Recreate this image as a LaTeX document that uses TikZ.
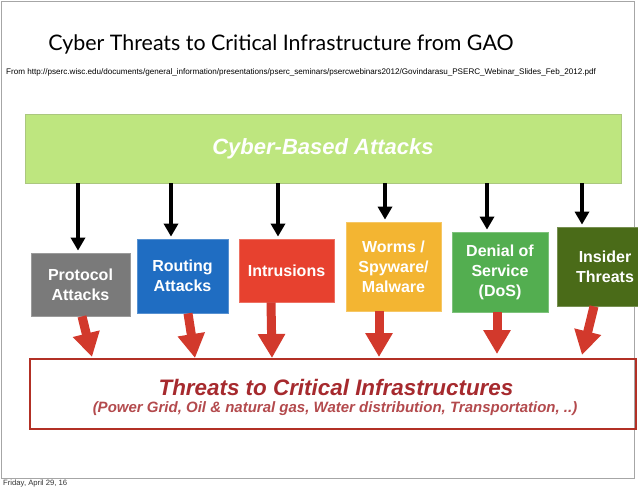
\documentclass[tikz,border=0pt]{standalone}
\usepackage{fontspec}
\setmainfont{Liberation Sans}
\newfontfamily\titlefont{Lato}
\usetikzlibrary{arrows.meta}

\definecolor{cybergreen}{HTML}{BEE67F}
\definecolor{protogray}{HTML}{7A7A7A}
\definecolor{routeblue}{HTML}{1F6DC2}
\definecolor{intrured}{HTML}{E7412F}
\definecolor{wormyellow}{HTML}{F3B532}
\definecolor{dosgreen}{HTML}{53AE50}
\definecolor{insidergreen}{HTML}{4A6B18}
\definecolor{arrowred}{HTML}{D2392C}
\definecolor{threatred}{HTML}{A62A2E}

\tikzset{
  attack/.style={fill=#1, draw=#1!75!white, line width=0.8pt, text=white,
    font=\bfseries\fontsize{16}{20}\selectfont, align=center, inner sep=0pt},
  feed/.style={line width=4pt, -{Triangle[width=14pt,length=13pt]}, shorten >=2pt},
  hit/.style={draw=arrowred, line width=9pt, -{Triangle[width=26pt,length=24pt]}}
}

\begin{document}
\begin{tikzpicture}[x=1pt,y=-1pt]
  \useasboundingbox (0,0) rectangle (638,491);
  \draw[gray!70, line width=1pt] (1,1) rectangle (634,478);

  % header
  \node (title) at (281,44) {\titlefont\fontsize{21.4}{26}\selectfont Cyber Threats to Critical Infrastructure from GAO};
  \node[anchor=west, inner sep=0pt] (src) at (6,72) {\fontsize{8.1}{9}\selectfont From http://pserc.wisc.edu/documents/general\_information/presentations/pserc\_seminars/psercwebinars2012/Govindarasu\_PSERC\_Webinar\_Slides\_Feb\_2012.pdf};
  \node[anchor=west, inner sep=0pt, text=black!80] (date) at (3,484) {\fontsize{7.7}{9}\selectfont Friday, April 29, 16};

  % top box
  \node[fill=cybergreen, draw=cybergreen!70!gray, line width=0.8pt, minimum width=596pt, minimum height=69pt,
    text=white, font=\bfseries\itshape\fontsize{22}{26}\selectfont] (cyber) at (323,148.5) {Cyber-Based Attacks};

  % attack types
  \node[attack=protogray, minimum width=99pt, minimum height=63pt] (proto) at (80.5,284.5) {Protocol\\Attacks};
  \node[attack=routeblue, minimum width=91pt, minimum height=74pt] (route) at (182.5,276) {Routing\\Attacks};
  \node[attack=intrured, minimum width=95pt, minimum height=63pt] (intru) at (286.5,270.5) {Intrusions};
  \node[attack=wormyellow, minimum width=95pt, minimum height=89pt] (worms) at (393.5,266.5) {Worms /\\Spyware/\\Malware};
  \node[attack=dosgreen, minimum width=96pt, minimum height=80pt] (dos) at (500,272) {Denial of\\Service\\(DoS)};
  \node[attack=insidergreen, minimum width=96pt, minimum height=79pt] (insider) at (605,266.5) {Insider\\Threats};

  % bottom box
  \node[draw=arrowred!85!black, line width=1.2pt, minimum width=606pt, minimum height=70pt] (infra) at (333,394) {};
  \node[text=threatred, font=\bfseries\itshape\fontsize{22.4}{26}\selectfont] (infratitle) at (336,387) {Threats to Critical Infrastructures};
  \node[text=threatred!85!white, font=\bfseries\itshape\fontsize{15}{17}\selectfont] (infrasub) at (335,409) {(Power Grid, Oil \& natural gas, Water distribution, Transportation, ..)};

  % black arrows
  \draw[feed] ([xshift=-2.5pt]proto.north |- cyber.south) -- ([xshift=-2.5pt]proto.north);
  \draw[feed] ([xshift=-11.5pt]route.north |- cyber.south) -- ([xshift=-11.5pt]route.north);
  \draw[feed] ([xshift=-8.5pt]intru.north |- cyber.south) -- ([xshift=-8.5pt]intru.north);
  \draw[feed] ([xshift=-8.5pt]worms.north |- cyber.south) -- ([xshift=-8.5pt]worms.north);
  \draw[feed] ([xshift=-13pt]dos.north |- cyber.south) -- ([xshift=-13pt]dos.north);
  \draw[feed] ([xshift=-23pt]insider.north |- cyber.south) -- ([xshift=-23pt]insider.north);

  % red arrows
  \coordinate (t1) at (92,357);
  \coordinate (t2) at (195,358);
  \coordinate (t3) at (272,358);
  \coordinate (t4) at (379,357);
  \coordinate (t5) at (497,354);
  \coordinate (t6) at (582,355);
  \draw[hit] ([xshift=1.5pt]proto.south) -- (t1);
  \draw[hit] ([xshift=5.5pt]route.south) -- (t2);
  \draw[hit] ([xshift=-15.5pt]intru.south) -- (t3);
  \draw[hit] ([xshift=-14.5pt]worms.south) -- (t4);
  \draw[hit] ([xshift=-3pt]dos.south) -- (t5);
  \draw[hit] ([xshift=-11pt]insider.south) -- (t6);
\end{tikzpicture}
\end{document}
